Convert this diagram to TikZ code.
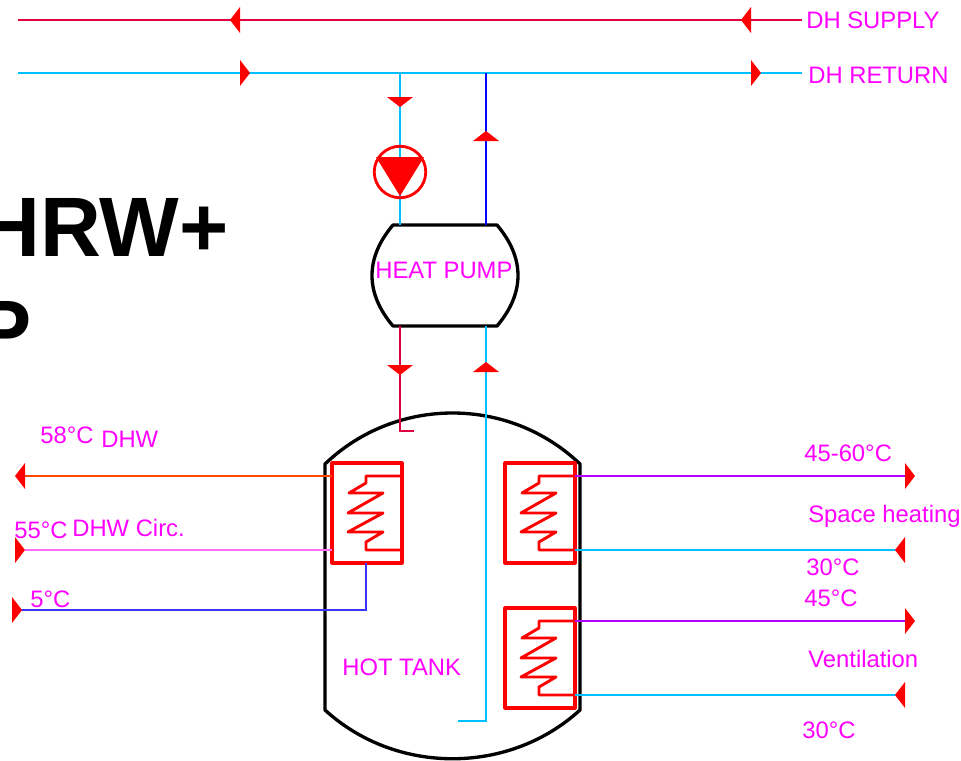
\documentclass[tikz,border=0pt]{standalone}
\usepackage{fontspec}
\setmainfont{Liberation Sans}
\usepackage{xcolor}
\usetikzlibrary{positioning, calc}
\definecolor{tmagenta}{RGB}{255,0,255}
\definecolor{tcyan}{RGB}{0,191,255}
\definecolor{tcrimson}{RGB}{225,0,65}
\definecolor{tpurple}{RGB}{180,0,255}
\definecolor{torange}{RGB}{255,69,0}
\definecolor{tpink}{RGB}{255,110,245}
\definecolor{tblue}{RGB}{55,55,255}
\tikzset{
  tag/.style={anchor=base west, inner sep=0pt, text=tmagenta, font=\fontsize{13.55}{15}\selectfont},
  headline/.style={anchor=base east, inner sep=0pt, font=\fontsize{48}{50}\selectfont\bfseries},
  pipe/.style={line width=1.35pt},
  shell/.style={line width=1.9pt, line join=round},
  flowtip/.pic={\fill[red] (0,-13) -- (0,13) -- (10,0) -- cycle;},
  coilbox/.pic={
    \draw[red, line width=1.8pt, line join=round] (0,0) rectangle (70,100);
    \draw[red, line width=1.65pt, line join=round] (70,13) -- (34,13) -- (34,20) -- (17,30) -- (51,30)
      -- (16,50) -- (51,50) -- (16,69) -- (51,69) -- (34,79) -- (34,87) -- (70,87);
    \coordinate (-wa) at (0,13);
    \coordinate (-wb) at (0,87);
    \coordinate (-ea) at (70,13);
    \coordinate (-eb) at (70,87);
    \coordinate (-s) at (34,100);
  }
}
\begin{document}
\begin{tikzpicture}[x=0.02cm, y=-0.02cm]
  \useasboundingbox (0,0) rectangle (961,761);
  \clip (0,0) rectangle (961,761);
  % Title, cut off by the page
  \node[headline] (titlea) at (229,256) {HRW+};
  \node[headline] (titleb) at (32,359) {P};
  % Free pipe ends
  \coordinate (supw) at (18,20);
  \coordinate (supe) at (802,20);
  \coordinate (retw) at (18,73);
  \coordinate (rete) at (802,73);
  \coordinate (reta) at (400,73);
  \coordinate (retb) at (486,73);
  \coordinate (hpa) at (400,225);
  \coordinate (hpb) at (486,225);
  \coordinate (hpc) at (400,326);
  \coordinate (hpd) at (486,326);
  \coordinate (hooka) at (414,431);
  \coordinate (hookb) at (458,721);
  % Hot tank
  \draw[shell] (325,464) .. controls (396,396) and (509,396) .. (580,464) -- (580,710)
    .. controls (509,775) and (396,775) .. (325,710) -- cycle;
  % Heat pump
  \draw[shell] (393,225) -- (497,225) .. controls (525,258) and (525,293) .. (497,326)
    -- (393,326) .. controls (365,293) and (365,258) .. (393,225) -- cycle;
  % Coils
  \pic (hxa) at (332,463) {coilbox};
  \pic (hxb) at (505,463) {coilbox};
  \pic (hxc) at (505,608) {coilbox};
  % District heating
  \draw[pipe, tcrimson] (supw) -- (supe);
  \draw[pipe, tcyan] (retw) -- (rete);
  \draw[pipe, tcyan] (reta) -- (hpa);
  \draw[pipe, blue] (retb) -- (hpb);
  \draw[pipe, tcrimson] (hpc) |- (hooka);
  \draw[pipe, tcyan] (hpd) |- (hookb);
  % Left side
  \coordinate (dhw) at (25,476);
  \coordinate (circ) at (25,550);
  \coordinate (cold) at (21,610);
  \draw[pipe, torange] (hxa-wa) -- (dhw);
  \draw[pipe, tpink] (hxa-wb) -- (circ);
  \draw[pipe, tblue] (hxa-s) |- (cold);
  % Right side
  \coordinate (spa) at (905,476);
  \coordinate (spb) at (897,550);
  \coordinate (vena) at (905,621);
  \coordinate (venb) at (897,695);
  \draw[pipe, tpurple] (hxb-ea) -- (spa);
  \draw[pipe, tcyan] (hxb-eb) -- (spb);
  \draw[pipe, tpurple] (hxc-ea) -- (vena);
  \draw[pipe, tcyan] (hxc-eb) -- (venb);
  % Circulation pump
  \node[draw=red, line width=1.6pt, circle, minimum size=1.03cm, inner sep=0pt] (pump) at (400,172) {};
  \fill[red] (376,157) -- (424,157) -- (400,196) -- cycle;
  % Flow tips
  \pic[rotate=180] at (240,20) {flowtip};
  \pic[rotate=180] at (751,20) {flowtip};
  \pic at (240,73) {flowtip};
  \pic at (751,73) {flowtip};
  \pic[rotate=-90] at (400,97) {flowtip};
  \pic[rotate=90] at (486,141) {flowtip};
  \pic[rotate=-90] at (400,365) {flowtip};
  \pic[rotate=90] at (486,372) {flowtip};
  \pic[rotate=180] at (25,476) {flowtip};
  \pic at (15,550) {flowtip};
  \pic at (12,610) {flowtip};
  \pic at (905,476) {flowtip};
  \pic[rotate=180] at (905,550) {flowtip};
  \pic at (905,621) {flowtip};
  \pic[rotate=180] at (905,695) {flowtip};
  % Labels
  \node[tag] (lsup) at (806,28) {DH SUPPLY};
  \node[tag] (lret) at (808,83) {DH RETURN};
  \node[tag] (lhp) at (375,278) {HEAT PUMP};
  \node[tag] (ltank) at (342,675) {HOT TANK};
  \node[tag] (lta) at (40,443) {58°C};
  \node[tag] (ldhw) at (101,447) {DHW};
  \node[tag] (ltb) at (14,538) {55°C};
  \node[tag] (lcirc) at (72,536) {DHW Circ.};
  \node[tag] (ltc) at (30,607) {5°C};
  \node[tag] (ltd) at (804,461) {45-60°C};
  \node[tag] (lsp) at (808,522) {Space heating};
  \node[tag] (lte) at (806,575) {30°C};
  \node[tag] (ltf) at (804,606) {45°C};
  \node[tag] (lven) at (808,667) {Ventilation};
  \node[tag] (ltg) at (802,738) {30°C};
\end{tikzpicture}
\end{document}
